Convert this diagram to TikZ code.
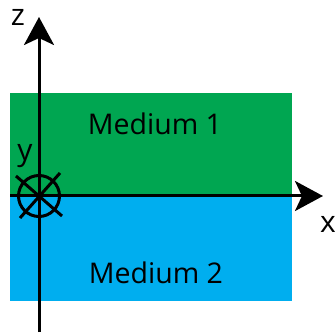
\documentclass[tikz,border=0pt]{standalone}
\usepackage{fontspec}
\setmainfont{Open Sans}
\usetikzlibrary{arrows.meta,positioning}
\definecolor{mediumgreen}{RGB}{0,166,81}
\definecolor{mediumblue}{RGB}{0,174,239}
\tikzset{
  axis arrow/.style={-{Stealth[length=28pt,width=30pt,inset=7pt]}, line width=3pt, black},
  medium label/.style={font=\fontsize{28.5}{32}\selectfont, text=black, inner sep=0pt},
  axis label/.style={font=\fontsize{30}{34}\selectfont, text=black, inner sep=0pt}
}

\begin{document}
\begin{tikzpicture}[x=1pt, y=-1pt]
    \useasboundingbox (0,0) rectangle (335,334);
    % the two media
    \fill[mediumgreen] (10,93) rectangle (292,196);
    \fill[mediumblue] (10,196) rectangle (292,301);
    \node[medium label] (medium1) at (155,124) {Medium 1};
    \node[medium label] (medium2) at (156,273) {Medium 2};
    % axes
    \coordinate (origin) at (39,196);
    \coordinate (zstart) at (39,332);
    \coordinate (zend) at (39,17);
    \coordinate (xstart) at (10,196);
    \coordinate (xend) at (323,196);
    \draw[axis arrow] (zstart) -- (zend);
    \draw[axis arrow] (xstart) -- (xend);
    \node[axis label] (zlabel) at (18,17) {z};
    \node[axis label] (xlabel) at (328,224) {x};
    \node[axis label] (ylabel) at (25,156) {y};
    % y axis pointing into the page
    \node[circle, draw, line width=3pt, minimum size=41pt, inner sep=0pt] (yaxis) at (origin) {};
    \draw[line width=3pt] ([shift={(-23,-20)}]origin) -- ([shift={(23,20)}]origin);
    \draw[line width=3pt] ([shift={(21,-23)}]origin) -- ([shift={(-19,22)}]origin);
  \end{tikzpicture}
\end{document}
